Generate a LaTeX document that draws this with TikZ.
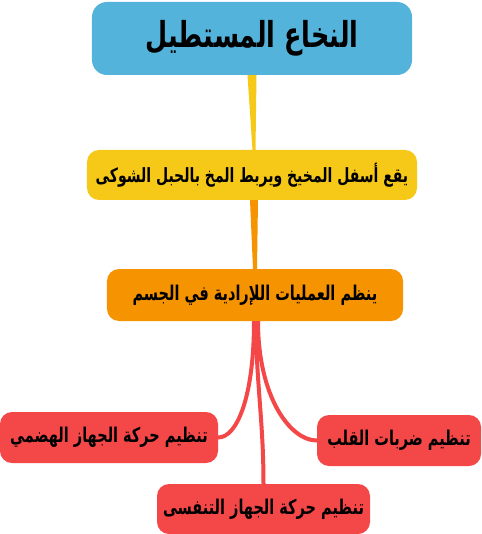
\documentclass[tikz,border=0pt]{standalone}
\usepackage{fontspec}
\usepackage{graphicx}
\usepackage{tikz}
\usetikzlibrary{shapes}
\TeXXeTstate=1
\newfontfamily\arabicfont[Script=Arabic]{DejaVu Sans}
\newcommand{\artext}[1]{\scalebox{1}[1.4]{\beginR #1\endR}}
\definecolor{mmblue}{RGB}{83,179,219}
\definecolor{mmyellow}{RGB}{246,201,24}
\definecolor{mmorange}{RGB}{246,147,0}
\definecolor{mmred}{RGB}{244,71,71}
\tikzstyle{mm} = [rectangle, inner sep=0pt, text=black,
    font=\arabicfont\bfseries\fontsize{14.5}{16}\selectfont]
\tikzstyle{rt} = [mm, fill=mmblue, rounded corners=15pt, minimum width=320pt,
    minimum height=73pt, font=\arabicfont\bfseries\fontsize{25.5}{28}\selectfont]
\tikzstyle{st} = [mm, rounded corners=12pt, minimum height=51pt]
\tikzstyle{lf} = [mm, fill=mmred, rounded corners=12pt, minimum height=51pt]

\begin{document}
\begin{tikzpicture}[x=1pt,y=1pt,node distance=120pt]
  \useasboundingbox[fill=white] (-252,38.5) rectangle (229,-495.5);

  \node[rt]                      (root) {\artext{النخاع المستطيل}};
  \node[st, fill=mmyellow, minimum width=330pt, minimum height=50pt,
        font=\arabicfont\bfseries\fontsize{14}{16}\selectfont]
        (loc) [below of=root, yshift=-16.5pt] {\artext{يقع أسفل المخيخ ويربط المخ بالحبل الشوكى}};
  \node[st, fill=mmorange, minimum width=296pt, minimum height=52pt]
        (func) [below of=loc, xshift=3pt] {\artext{ينظم العمليات اللإرادية في الجسم}};
  \node[lf, minimum width=218pt] (digest) [below of=func, xshift=-146pt, yshift=-22.5pt] {\artext{تنظيم حركة الجهاز الهضمي}};
  \node[lf, minimum width=164pt] (heart) [below of=func, xshift=144pt, yshift=-25.5pt] {\artext{تنظيم ضربات القلب}};
  \node[lf, minimum width=213pt, minimum height=50pt]
        (breath) [below of=func, node distance=214pt, xshift=8.5pt] {\artext{تنظيم حركة الجهاز التنفسى}};

  % tapered branches
  \fill[mmyellow] ([xshift=-4.5pt]root.south) -- ([xshift=4.5pt]root.south)
    -- ([xshift=3.5pt]loc.north) -- ([xshift=0.5pt]loc.north) -- cycle;
  \fill[mmorange] ([xshift=-2pt]loc.south) -- ([xshift=6pt]loc.south)
    -- ([xshift=2pt]func.north) -- ([xshift=-2pt]func.north) -- cycle;
  \fill[mmred] ([xshift=-3pt]func.south) .. controls +(0,-75) and +(17,0) .. ([yshift=2pt]digest.east)
    -- ([yshift=-2pt]digest.east) .. controls +(21,0) and +(0,-75) .. ([xshift=1pt]func.south) -- cycle;
  \fill[mmred] ([xshift=1pt]func.south) .. controls +(0,-75) and +(-29,0) .. ([yshift=-2pt]heart.west)
    -- ([yshift=2pt]heart.west) .. controls +(-25,0) and +(0,-75) .. ([xshift=5pt]func.south) -- cycle;
  \fill[mmred] ([xshift=-1pt]func.south) .. controls +(0,-60) and +(0,63) .. ([xshift=-2pt]breath.north)
    -- ([xshift=2pt]breath.north) .. controls +(0,63) and +(0,-60) .. ([xshift=3pt]func.south) -- cycle;
\end{tikzpicture}
\end{document}
